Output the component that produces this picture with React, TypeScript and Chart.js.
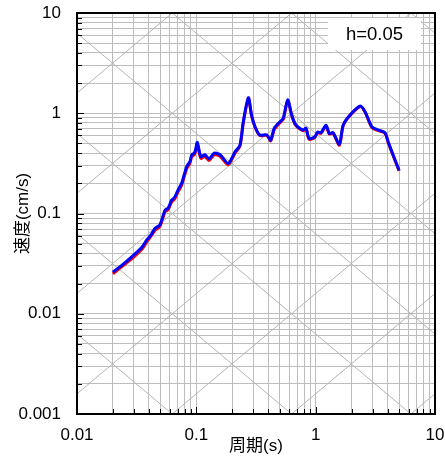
import React, { useEffect, useRef } from 'react';
import { Chart, registerables } from 'chart.js';

Chart.register(...registerables);

// Natural period (s)
const PERIODS = [
  0.02, 0.025, 0.03, 0.035, 0.0384, 0.042, 0.0451, 0.0494, 0.0547, 0.058,
  0.0621, 0.066, 0.07, 0.0753, 0.083, 0.0885, 0.0915, 0.096, 0.0985, 0.1019,
  0.109, 0.118, 0.128, 0.141, 0.158, 0.185, 0.211, 0.232, 0.2475, 0.273,
  0.29, 0.311, 0.34, 0.39, 0.42, 0.45, 0.5, 0.535, 0.583, 0.63,
  0.67, 0.71, 0.786, 0.83, 0.88, 0.98, 1.04, 1.11, 1.22, 1.3,
  1.4, 1.58, 1.7, 1.94, 2.37, 2.6, 2.96, 3.35, 3.81, 4.05,
  4.45, 5.0,
];

// Velocity response (cm/s) – blue series
const VEL_BLUE = [
  0.026, 0.032, 0.0386, 0.046, 0.0545, 0.062, 0.0712, 0.0767, 0.108, 0.113,
  0.136, 0.146, 0.17, 0.2, 0.293, 0.33, 0.384, 0.4, 0.43, 0.513,
  0.369, 0.385, 0.35, 0.4, 0.385, 0.316, 0.413, 0.482, 0.824, 1.43,
  0.96, 0.73, 0.607, 0.607, 0.54, 0.71, 0.82, 0.89, 1.36, 0.96,
  0.79, 0.73, 0.68, 0.71, 0.56, 0.58, 0.65, 0.64, 0.76, 0.63,
  0.64, 0.49, 0.76, 0.96, 1.18, 1.03, 0.73, 0.68, 0.64, 0.52,
  0.385, 0.27,
];

// Velocity response (cm/s) – red series
const VEL_RED = [
  0.025, 0.031, 0.037, 0.044, 0.052, 0.06, 0.068, 0.074, 0.104, 0.109,
  0.13, 0.14, 0.163, 0.192, 0.28, 0.318, 0.37, 0.385, 0.415, 0.495,
  0.355, 0.37, 0.338, 0.385, 0.372, 0.306, 0.4, 0.47, 0.8, 1.41,
  0.95, 0.72, 0.6, 0.6, 0.53, 0.69, 0.8, 0.87, 1.34, 0.95,
  0.78, 0.72, 0.67, 0.7, 0.55, 0.57, 0.64, 0.63, 0.75, 0.62,
  0.63, 0.48, 0.75, 0.95, 1.17, 1.02, 0.72, 0.67, 0.63, 0.51,
  0.38, 0.265,
];

const X_TICK_LABELS = ['0.01', '0.1', '1', '10'];
const Y_TICK_LABELS = ['0.001', '0.01', '0.1', '1', '10'];
const X_TITLE = '周期(s)';
const Y_TITLE = '速度(cm/s)';
const DAMPING_LABEL = 'h=0.05';

const FONT = "'Liberation Sans', 'Noto Sans CJK JP', sans-serif";
const GRID = '#bdbdbd';

function tickValues(labels: string[]): number[] {
  const decades = labels.map(Number);
  const out: number[] = [];
  for (let i = 0; i < decades.length; i++) {
    const d = decades[i];
    if (i === decades.length - 1) {
      out.push(d);
      break;
    }
    for (let m = 1; m <= 9; m++) out.push(parseFloat((m * d).toPrecision(6)));
  }
  return out;
}

function labelFor(labels: string[]) {
  const decades = labels.map(Number);
  return (value: number) => {
    const i = decades.findIndex((d) => Math.abs(d - value) / d < 1e-6);
    return i >= 0 ? labels[i] : '';
  };
}

function isDecade(labels: string[], value: number) {
  return labels.map(Number).some((d) => Math.abs(d - value) / d < 1e-6);
}

const X_TICKS = tickValues(X_TICK_LABELS);
const Y_TICKS = tickValues(Y_TICK_LABELS);

function zeroPadding(s: any) {
  s.paddingTop = 0;
  s.paddingBottom = 0;
  s.paddingLeft = 0;
  s.paddingRight = 0;
}

const overlayPlugin = {
  id: 'tripartiteOverlay',
  beforeDatasetsDraw(chart: any) {
    const { ctx, chartArea: a, scales } = chart;
    const x = scales.x;
    const y = scales.y;
    ctx.save();
    ctx.beginPath();
    ctx.rect(a.left, a.top, a.right - a.left, a.bottom - a.top);
    ctx.clip();
    ctx.strokeStyle = '#b4b4b4';
    ctx.lineWidth = 1;
    const T0 = 0.005;
    const T1 = 20;
    // constant displacement lines (V = 2πD/T)
    for (let k = -8; k <= 3; k++) {
      const D = Math.pow(10, k);
      ctx.beginPath();
      ctx.moveTo(x.getPixelForValue(T0), y.getPixelForValue((2 * Math.PI * D) / T0));
      ctx.lineTo(x.getPixelForValue(T1), y.getPixelForValue((2 * Math.PI * D) / T1));
      ctx.stroke();
    }
    // constant acceleration lines (V = A T / 2π)
    for (let k = -6; k <= 5; k++) {
      const A = Math.pow(10, k);
      ctx.beginPath();
      ctx.moveTo(x.getPixelForValue(T0), y.getPixelForValue((A * T0) / (2 * Math.PI)));
      ctx.lineTo(x.getPixelForValue(T1), y.getPixelForValue((A * T1) / (2 * Math.PI)));
      ctx.stroke();
    }
    ctx.restore();

    // label box
    ctx.save();
    const bx = a.right - 107;
    const by = a.top + 5;
    const bw = 93;
    const bh = 32;
    ctx.fillStyle = '#ffffff';
    ctx.fillRect(bx, by, bw, bh);
    ctx.fillStyle = '#000000';
    ctx.font = `18.5px ${FONT}`;
    ctx.textAlign = 'center';
    ctx.textBaseline = 'middle';
    ctx.fillText(DAMPING_LABEL, bx + bw / 2, by + bh / 2 + 1);
    ctx.restore();
  },
  afterDraw(chart: any) {
    const { ctx, chartArea: a, scales } = chart;
    const x = scales.x;
    const y = scales.y;
    ctx.save();
    ctx.strokeStyle = '#000000';
    ctx.lineWidth = 1;
    Y_TICKS.forEach((v) => {
      const py = Math.round(y.getPixelForValue(v)) + 0.5;
      const len = isDecade(Y_TICK_LABELS, v) ? 7 : 5;
      ctx.beginPath();
      ctx.moveTo(a.left, py);
      ctx.lineTo(a.left + len, py);
      ctx.stroke();
    });
    X_TICKS.forEach((v) => {
      const px = Math.round(x.getPixelForValue(v)) + 0.5;
      const len = isDecade(X_TICK_LABELS, v) ? 7 : 5;
      ctx.beginPath();
      ctx.moveTo(px, a.bottom);
      ctx.lineTo(px, a.bottom - len);
      ctx.stroke();
    });
    ctx.lineWidth = 2;
    ctx.strokeRect(a.left, a.top, a.right - a.left, a.bottom - a.top);
    ctx.restore();
  },
};

export default function App() {
  const canvasRef = useRef<HTMLCanvasElement | null>(null);

  useEffect(() => {
    document.body.style.margin = '0';
    const canvas = canvasRef.current;
    if (!canvas) return;

    const red = PERIODS.map((t, i) => ({ x: t, y: VEL_RED[i] }));
    const blue = PERIODS.map((t, i) => ({ x: t, y: VEL_BLUE[i] }));

    const chart = new Chart(canvas, {
      type: 'line',
      data: {
        datasets: [
          {
            label: 'blue',
            data: blue,
            borderColor: '#0000ff',
            borderWidth: 3,
            pointRadius: 0,
            tension: 0.25,
            fill: false,
            order: 0,
          },
          {
            label: 'red',
            data: red,
            borderColor: '#ff0000',
            borderWidth: 3,
            pointRadius: 0,
            tension: 0.25,
            fill: false,
            order: 1,
          },
        ],
      },
      options: {
        responsive: false,
        animation: false,
        events: [],
        layout: { padding: { left: 0, top: 13, right: 10, bottom: 0 } },
        plugins: {
          legend: { display: false },
          tooltip: { enabled: false },
        },
        scales: {
          x: {
            type: 'logarithmic',
            min: 0.01,
            max: 10,
            afterBuildTicks: (s: any) => {
              s.ticks = X_TICKS.map((v) => ({ value: v }));
            },
            afterFit: (s: any) => {
              s.height = 44;
              zeroPadding(s);
            },
            ticks: {
              autoSkip: false,
              maxRotation: 0,
              minRotation: 0,
              padding: 11,
              color: '#000000',
              font: { family: FONT, size: 17 },
              callback: labelFor(X_TICK_LABELS) as any,
            },
            grid: { color: GRID, lineWidth: 1, drawTicks: false },
            border: { display: false },
            title: {
              display: true,
              text: X_TITLE,
              color: '#000000',
              font: { family: FONT, size: 17 },
              padding: { top: 0, bottom: 1 },
            },
          },
          y: {
            type: 'logarithmic',
            min: 0.001,
            max: 10,
            afterBuildTicks: (s: any) => {
              s.ticks = Y_TICKS.map((v) => ({ value: v }));
            },
            afterFit: (s: any) => {
              s.width = 77;
              zeroPadding(s);
            },
            ticks: {
              autoSkip: false,
              padding: 16,
              color: '#000000',
              font: { family: FONT, size: 17 },
              callback: labelFor(Y_TICK_LABELS) as any,
            },
            grid: { color: GRID, lineWidth: 1, drawTicks: false },
            border: { display: false },
            title: {
              display: true,
              text: Y_TITLE,
              color: '#000000',
              font: { family: FONT, size: 17 },
              padding: { top: 13, bottom: 0 },
            },
          },
        },
      },
      plugins: [overlayPlugin],
    } as any);

    return () => {
      chart.destroy();
    };
  }, []);

  return (
    <div style={{ width: 445, height: 458 }}>
      <canvas ref={canvasRef} width={445} height={458} style={{ display: 'block' }} />
    </div>
  );
}
